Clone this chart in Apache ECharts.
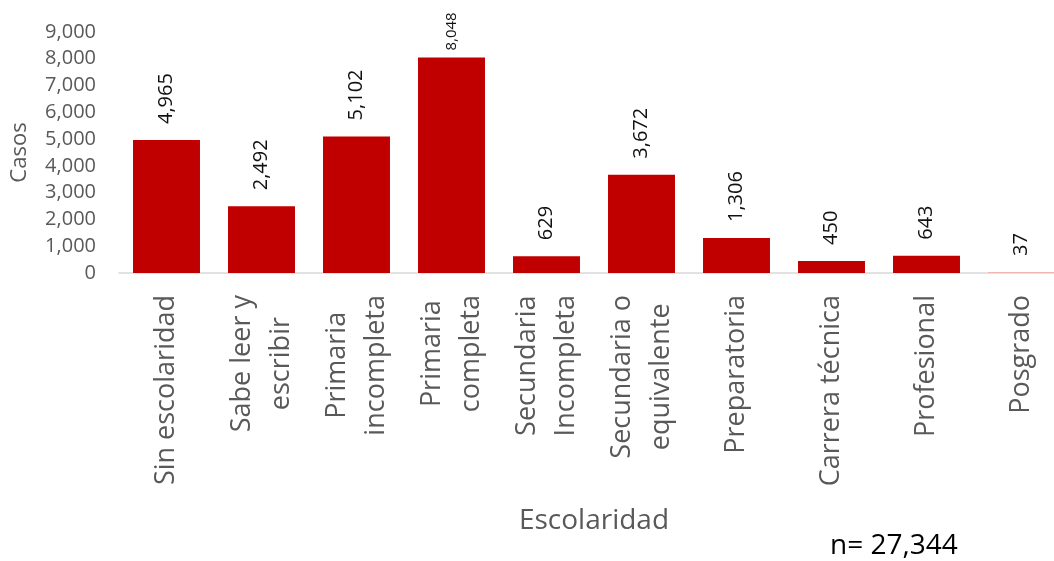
<!DOCTYPE html>
<html>
<head>
<meta charset="utf-8">
<script src="https://cdn.jsdelivr.net/npm/echarts@6/dist/echarts.min.js"></script>
<style>
  html, body { margin: 0; padding: 0; background: #ffffff; }
  #chart { width: 1054px; height: 561px; }
</style>
</head>
<body>
<div id="chart"></div>
<script>
// Escolaridad categories (line breaks as printed under the axis)
const categories = [
  'Sin escolaridad',
  'Sabe leer y\nescribir',
  'Primaria\nincompleta',
  'Primaria\ncompleta',
  'Secundaria\nIncompleta',
  'Secundaria o\nequivalente',
  'Preparatoria',
  'Carrera técnica',
  'Profesional',
  'Posgrado'
];

// Number of cases per category
const casos = [4965, 2492, 5102, 8048, 629, 3672, 1306, 450, 643, 37];

// Total shown beneath the chart
const totalLabel = 'n= 27,344';

const fmt = v => Number(v).toLocaleString('en-US');

const FONT = '"Open Sans", "Noto Sans", sans-serif';
const GREY = '#595959';
const RED = '#C00000';

// Per-bar overrides: the faded last bar and the smaller label on the tallest bar
const seriesData = casos.map((v, i) => {
  const item = { value: v };
  if (categories[i] === 'Posgrado') {
    item.itemStyle = { color: '#F4B4B4' };
  }
  if (v === Math.max(...casos)) {
    item.label = { fontSize: 15, distance: 7 };
  }
  return item;
});

const chart = echarts.init(document.getElementById('chart'), null, { renderer: 'canvas' });

chart.setOption({
  animation: false,
  backgroundColor: '#ffffff',
  textStyle: { fontFamily: FONT },
  // the plot runs a little past the right edge of the canvas
  grid: {
    left: 119, width: 950, top: 32, bottom: 288,
    containLabel: false, outerBoundsMode: 'none'
  },
  xAxis: {
    type: 'category',
    data: categories,
    name: 'Escolaridad',
    nameLocation: 'middle',
    nameGap: 234,
    nameTextStyle: { fontSize: 28, color: GREY, fontFamily: FONT },
    axisLine: { show: true, lineStyle: { color: '#D9D9D9', width: 1.5 } },
    axisTick: { show: false },
    axisLabel: {
      interval: 0,
      rotate: 90,
      margin: 22,
      formatter: v => v.split('\n').map(s => '{c|' + s + '}').join('\n'),
      rich: {
        c: { fontSize: 27, lineHeight: 39, color: GREY, align: 'center', fontFamily: FONT }
      }
    }
  },
  yAxis: {
    type: 'value',
    min: 0,
    max: 9000,
    interval: 1000,
    name: 'Casos',
    nameLocation: 'middle',
    nameGap: 88,
    nameTextStyle: { fontSize: 22, color: GREY, fontFamily: FONT },
    axisLine: { show: false },
    axisTick: { show: false },
    splitLine: { show: false },
    axisLabel: {
      margin: 23,
      fontSize: 20,
      color: GREY,
      fontFamily: FONT,
      formatter: v => fmt(v)
    }
  },
  series: [{
    type: 'bar',
    data: seriesData,
    barCategoryGap: '29.5%',
    itemStyle: { color: RED },
    label: {
      show: true,
      position: 'top',
      rotate: 90,
      align: 'left',
      verticalAlign: 'middle',
      distance: 16,
      fontSize: 20,
      color: '#111111',
      fontFamily: FONT,
      formatter: p => fmt(p.value)
    }
  }],
  graphic: [{
    type: 'text',
    left: 830,
    top: 532,
    style: {
      text: totalLabel,
      fontSize: 28,
      fill: '#000000',
      fontFamily: FONT
    }
  }]
});
</script>
</body>
</html>
